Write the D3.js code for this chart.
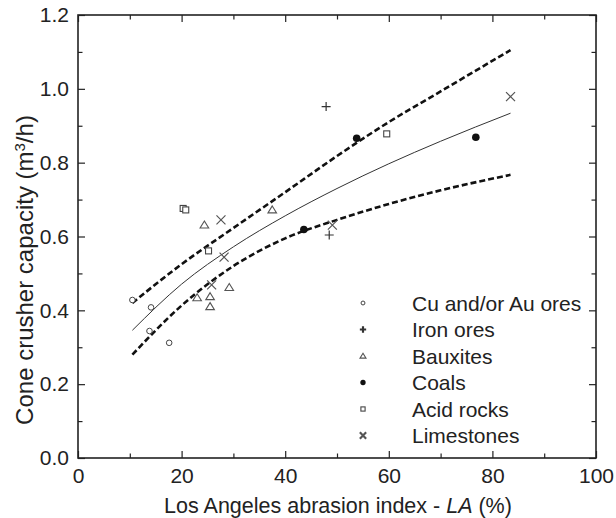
<!DOCTYPE html>
<html>
<head>
  <meta charset="utf-8">
  <title>Cone crusher capacity vs LA</title>
  <style>
    body { margin: 0; background: #fff; }
    svg text { font-family: "Liberation Sans", Arial, sans-serif; fill: #222; }
  </style>
</head>
<body>
  <svg id="chart" width="616" height="518"></svg>
  <script src="https://d3js.org/d3.v7.min.js"></script>
  <script>
    // measured points, [LA %, capacity m3/h]
    const cuAu = [[10.5, 0.428], [14.1, 0.408], [13.8, 0.344], [17.6, 0.312]];
    const ironOres = [[47.9, 0.952], [48.5, 0.604]];
    const bauxites = [[24.4, 0.631], [37.5, 0.672], [29.2, 0.462], [23.0, 0.434], [25.5, 0.437], [25.5, 0.410]];
    const coals = [[53.8, 0.866], [43.6, 0.619], [76.8, 0.869]];
    const acidRocks = [[20.3, 0.676], [20.8, 0.672], [25.2, 0.561], [59.6, 0.878]];
    const limestones = [[27.6, 0.645], [28.2, 0.544], [25.8, 0.469], [49.1, 0.631], [83.5, 0.979]];

    // fitted curve and bounds
    const curveX = [10.5, 20, 30, 40, 50, 60, 70, 83.5];
    const fitY = [0.346, 0.471, 0.572, 0.656, 0.730, 0.797, 0.858, 0.934];
    const upperY = [0.420, 0.525, 0.623, 0.720, 0.818, 0.910, 0.993, 1.105];
    const lowerY = [0.280, 0.413, 0.520, 0.595, 0.645, 0.688, 0.725, 0.767];

    const legendLabels = ["Cu and/or Au ores", "Iron ores", "Bauxites", "Coals", "Acid rocks", "Limestones"];
    const xMajor = [0, 20, 40, 60, 80, 100];
    const xMinor = [10, 30, 50, 70, 90];
    const yMajor = [0, 0.2, 0.4, 0.6, 0.8, 1.0, 1.2];
    const yMinor = [0.1, 0.3, 0.5, 0.7, 0.9, 1.1];

    const margin = { left: 78, top: 15 };
    const width = 518, height = 443;
    const ink = "#222";

    const svg = d3.select("#chart");
    const g = svg.append("g").attr("transform", `translate(${margin.left},${margin.top})`);

    const x = d3.scaleLinear().domain([0, 100]).range([0, width]);
    const y = d3.scaleLinear().domain([0, 1.2]).range([height, 0]);

    // axes, ticks point inwards
    function styleAxis(sel) {
      sel.select(".domain").remove();
      sel.selectAll("line").attr("stroke", ink).attr("stroke-width", 1.2);
      sel.selectAll("text").style("font-size", "21px").attr("fill", ink);
    }
    g.append("g").attr("transform", `translate(0,${height})`)
      .call(d3.axisBottom(x).tickValues(xMajor).tickSizeInner(-7).tickSizeOuter(0).tickPadding(10).tickFormat(d3.format("d")))
      .call(styleAxis);
    g.append("g").attr("transform", `translate(0,${height})`)
      .call(d3.axisBottom(x).tickValues(xMinor).tickSize(-4.5).tickFormat(""))
      .call(styleAxis);
    g.append("g")
      .call(d3.axisTop(x).tickValues(xMajor).tickSize(-7).tickFormat(""))
      .call(styleAxis);
    g.append("g")
      .call(d3.axisTop(x).tickValues(xMinor).tickSize(-4.5).tickFormat(""))
      .call(styleAxis);
    g.append("g")
      .call(d3.axisLeft(y).tickValues(yMajor).tickSizeInner(-7).tickSizeOuter(0).tickPadding(9).tickFormat(d3.format(".1f")))
      .call(styleAxis);
    g.append("g")
      .call(d3.axisLeft(y).tickValues(yMinor).tickSize(-4.5).tickFormat(""))
      .call(styleAxis);
    g.append("g").attr("transform", `translate(${width},0)`)
      .call(d3.axisRight(y).tickValues(yMajor).tickSize(-7).tickFormat(""))
      .call(styleAxis);
    g.append("g").attr("transform", `translate(${width},0)`)
      .call(d3.axisRight(y).tickValues(yMinor).tickSize(-4.5).tickFormat(""))
      .call(styleAxis);

    g.append("rect")
      .attr("width", width).attr("height", height)
      .attr("fill", "none").attr("stroke", ink).attr("stroke-width", 1.6);

    // curves
    const line = d3.line().x(d => x(d[0])).y(d => y(d[1])).curve(d3.curveMonotoneX);
    const zipY = ys => curveX.map((v, i) => [v, ys[i]]);
    g.append("path").datum(zipY(fitY)).attr("d", line)
      .attr("fill", "none").attr("stroke", "#333").attr("stroke-width", 1);
    [upperY, lowerY].forEach(ys => {
      g.append("path").datum(zipY(ys)).attr("d", line)
        .attr("fill", "none").attr("stroke", "#111").attr("stroke-width", 2.6)
        .attr("stroke-dasharray", "6,3");
    });

    // marker shapes
    const markers = {
      circle: (s, k) => s.append("circle").attr("r", 2.8 * k).attr("fill", "#fff").attr("stroke", "#444").attr("stroke-width", 1),
      plus: (s, k) => s.append("path").attr("d", `M${-4.5 * k},0H${4.5 * k}M0,${-4.5 * k}V${4.5 * k}`).attr("stroke", "#333").attr("stroke-width", 1.2 * (k < 1 ? 1.8 : 1)),
      triangle: (s, k) => s.append("path").attr("d", `M0,${-4 * k}L${4.3 * k},${3 * k}L${-4.3 * k},${3 * k}Z`).attr("fill", "#fff").attr("stroke", "#555").attr("stroke-width", 1.1),
      dot: (s, k) => s.append("circle").attr("r", 3.8 * k).attr("fill", "#111"),
      square: (s, k) => s.append("rect").attr("x", -3 * k).attr("y", -3 * k).attr("width", 6 * k).attr("height", 6 * k).attr("fill", "#fff").attr("stroke", "#444").attr("stroke-width", 1.1),
      cross: (s, k) => s.append("path").attr("d", `M${-4.5 * k},${-4.5 * k}L${4.5 * k},${4.5 * k}M${4.5 * k},${-4.5 * k}L${-4.5 * k},${4.5 * k}`).attr("stroke", "#555").attr("stroke-width", 1.2 * (k < 1 ? 1.8 : 1))
    };
    const groups = [
      [cuAu, "circle"], [ironOres, "plus"], [bauxites, "triangle"],
      [coals, "dot"], [acidRocks, "square"], [limestones, "cross"]
    ];

    groups.forEach(([data, shape]) => {
      g.selectAll(null).data(data).enter().append("g")
        .attr("transform", d => `translate(${x(d[0])},${y(d[1])})`)
        .each(function () { markers[shape](d3.select(this), 1); });
    });

    // legend
    const legend = svg.append("g");
    groups.forEach(([, shape], i) => {
      const cy = 303 + i * 26.5;
      const item = legend.append("g").attr("transform", `translate(363,${cy})`);
      markers[shape](item, 0.7);
      legend.append("text").attr("x", 412).attr("y", cy + 7.5)
        .style("font-size", "21px").text(legendLabels[i]);
    });

    // axis titles
    svg.append("text")
      .attr("x", 338).attr("y", 513)
      .attr("text-anchor", "middle").style("font-size", "21.5px")
      .html('Los Angeles abrasion index - <tspan font-style="italic">LA</tspan> (%)');

    svg.append("text")
      .attr("transform", "translate(33,270) rotate(-90)")
      .attr("text-anchor", "middle").style("font-size", "24px")
      .html('Cone crusher capacity (m<tspan baseline-shift="super" font-size="15px">3</tspan>/h)');
  </script>
</body>
</html>
